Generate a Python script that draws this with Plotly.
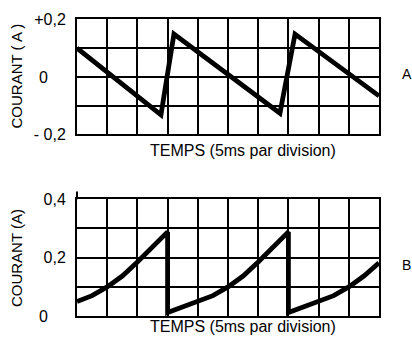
import plotly.graph_objects as go

# Oscillogram A: triangular current (divisions of 5 ms)
time_a = [0, 2.78, 3.21, 6.72, 7.22, 10]
current_a = [0.10, -0.132, 0.149, -0.126, 0.149, -0.066]

# Oscillogram B: rising current with abrupt drops
time_b = [0, 0.5, 1, 1.5, 2, 2.5, 3, 3, 3.5, 4, 4.5, 5, 5.5, 6, 6.5, 7, 7,
          7.5, 8, 8.5, 9, 9.5, 10]
current_b = [0.05, 0.07, 0.10, 0.137, 0.185, 0.234, 0.288, 0.012, 0.03, 0.05,
             0.07, 0.10, 0.137, 0.185, 0.234, 0.288, 0.012, 0.03, 0.05, 0.07,
             0.10, 0.137, 0.182]

ticks_a = [-0.2, -0.1, 0, 0.1, 0.2]
labels_a = ["- 0,2", "", "0\u00a0\u00a0\u00a0\u00a0", "", "+0,2"]
ticks_b = [0, 0.1, 0.2, 0.3, 0.4]
labels_b = ["0\u00a0\u00a0\u00a0\u00a0", "", "0,2", "", "0,4"]
x_ticks = list(range(0, 11))

FONT = "Liberation Sans, Arial, sans-serif"

fig = go.Figure()
fig.add_trace(go.Scatter(x=time_a, y=current_a, mode="lines",
                         line=dict(color="black", width=4.8),
                         xaxis="x", yaxis="y", showlegend=False))
fig.add_trace(go.Scatter(x=time_b, y=current_b, mode="lines",
                         line=dict(color="black", width=4.8),
                         xaxis="x2", yaxis="y2", showlegend=False))

xdom = [77 / 412, 379 / 412]
common_x = dict(range=[0, 10], tickvals=x_ticks, showticklabels=False,
                showgrid=True, gridcolor="black", gridwidth=1.8,
                showline=True, linecolor="black", linewidth=2, mirror=True,
                zeroline=False, ticks="", domain=xdom)
common_y = dict(showgrid=True, gridcolor="black", gridwidth=1.8,
                showline=True, linecolor="black", linewidth=2, mirror=True,
                zeroline=False, ticks="", ticklabelstandoff=6,
                tickfont=dict(family=FONT, size=16, color="black"))

fig.update_layout(
    width=412, height=347,
    margin=dict(l=0, r=0, t=0, b=0),
    paper_bgcolor="white", plot_bgcolor="white",
    xaxis=dict(common_x, anchor="y"),
    yaxis=dict(common_y, range=[-0.2, 0.2], tickvals=ticks_a, ticktext=labels_a,
               domain=[1 - 133 / 347, 1 - 12 / 347], anchor="x"),
    xaxis2=dict(common_x, anchor="y2"),
    yaxis2=dict(common_y, range=[0, 0.4], tickvals=ticks_b, ticktext=labels_b,
                domain=[1 - 324 / 347, 1 - 201 / 347], anchor="x2"),
)

title_font = dict(family=FONT, size=16, color="black")
xtitle = "TEMPS (5ms par division)"
fig.add_annotation(text=xtitle, xref="paper", yref="paper", x=243 / 412, y=1 - 150 / 347,
                   showarrow=False, font=title_font, xanchor="center", yanchor="middle")
fig.add_annotation(text=xtitle, xref="paper", yref="paper", x=243 / 412, y=1 - 335 / 347,
                   showarrow=False, font=title_font, xanchor="center", yanchor="middle")
fig.add_annotation(text="COURANT ( A )", xref="paper", yref="paper", x=16 / 412, y=1 - 72 / 347,
                   showarrow=False, font=dict(family=FONT, size=15, color="black"),
                   textangle=-90, xanchor="center", yanchor="middle")
fig.add_annotation(text="COURANT (A)", xref="paper", yref="paper", x=16 / 412, y=1 - 263 / 347,
                   showarrow=False, font=dict(family=FONT, size=15, color="black"),
                   textangle=-90, xanchor="center", yanchor="middle")
fig.add_annotation(text="A", xref="paper", yref="paper", x=400 / 412, y=1 - 69 / 347,
                   showarrow=False, font=dict(family=FONT, size=14, color="black"),
                   xanchor="left", yanchor="middle")
fig.add_annotation(text="B", xref="paper", yref="paper", x=400 / 412, y=1 - 270 / 347,
                   showarrow=False, font=dict(family=FONT, size=14, color="black"),
                   xanchor="left", yanchor="middle")
# small stub of the left axis above the lower grid
fig.add_shape(type="line", xref="paper", yref="paper",
              x0=77 / 412, x1=77 / 412, y0=1 - 201 / 347, y1=1 - 193 / 347,
              line=dict(color="black", width=2))

fig.write_html("out.html")
